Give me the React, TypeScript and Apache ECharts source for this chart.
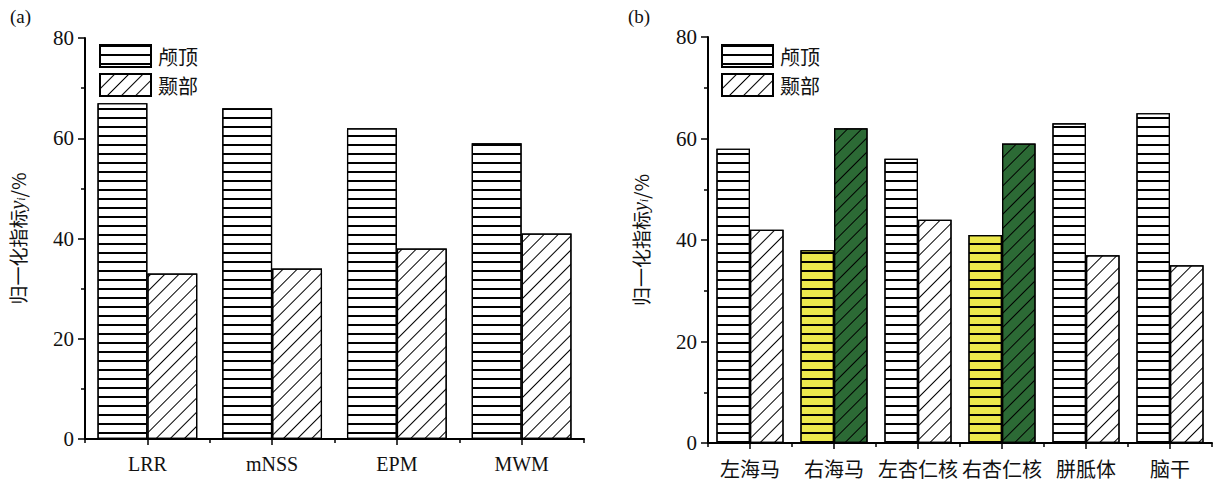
import React, { useEffect, useRef } from "react";
import * as echarts from "echarts";

const categoriesA = ["LRR", "mNSS", "EPM", "MWM"];
const crownA = [67, 66, 62, 59];
const temporalA = [33, 34, 38, 41];

const categoriesB = ["左海马", "右海马", "左杏仁核", "右杏仁核", "胼胝体", "脑干"];
const crownB = [58, 38, 56, 41, 63, 65];
const temporalB = [42, 62, 44, 59, 37, 35];
const highlightedB = ["右海马", "右杏仁核"];

const seriesNames = ["颅顶", "颞部"];
const yMin = 0;
const yMax = 80;
const yInterval = 20;

const SERIF = "'Liberation Serif', 'Noto Sans CJK SC', serif";
const CJK = "'Noto Sans CJK SC', 'Liberation Serif', serif";

const hLines = {
  symbol: "rect",
  symbolSize: 1,
  dashArrayX: [1, 0],
  dashArrayY: [1.6, 6.4],
  rotation: 0,
  color: "#000",
};
const dLines = {
  symbol: "rect",
  symbolSize: 1,
  dashArrayX: [1, 0],
  dashArrayY: [1, 9],
  rotation: -Math.PI / 4,
  color: "#000",
};

export default function App() {
  const ref = useRef<HTMLDivElement>(null);
  useEffect(() => {
    if (!ref.current) return;
    const chart = echarts.init(ref.current, null, { renderer: "svg" });

    const yAxisBase = (gridIndex: number) => ({
      type: "value",
      gridIndex,
      min: yMin,
      max: yMax,
      interval: yInterval,
      name: "{a|归一化指标}{y|y}{i|i}{a|/%}",
      nameLocation: "middle",
      nameGap: 58,
      nameTextStyle: {
        rich: {
          a: { fontFamily: CJK, fontSize: 19, color: "#111" },
          y: { fontFamily: SERIF, fontStyle: "italic", fontSize: 20, color: "#111" },
          i: { fontFamily: SERIF, fontStyle: "italic", fontSize: 12, color: "#111", verticalAlign: "bottom", padding: [8, 0, 0, 0] },
        },
      },
      axisLine: { show: true, lineStyle: { color: "#000", width: 2 } },
      axisTick: { show: true, inside: false, length: 7, lineStyle: { color: "#000", width: 1.5 } },
      minorTick: { show: true, splitNumber: 2, length: 4, lineStyle: { color: "#000", width: 1.5 } },
      splitLine: { show: false },
      axisLabel: { fontFamily: SERIF, fontSize: 21, color: "#111", margin: 11 },
    });

    const xAxisMain = (gridIndex: number, data: string[], font: string, size: number) => ({
      type: "category",
      gridIndex,
      position: "bottom",
      data,
      axisLine: { show: true, onZero: false, lineStyle: { color: "#000", width: 2 } },
      axisTick: { show: true, alignWithLabel: true, length: 6, lineStyle: { color: "#000", width: 1.5 } },
      axisLabel: { fontFamily: font, fontSize: size, color: "#111", margin: 15, interval: 0 },
      splitLine: { show: false },
    });
    const xAxisBoundary = (gridIndex: number, data: string[]) => ({
      type: "category",
      gridIndex,
      position: "bottom",
      data,
      axisLine: { show: false, onZero: false },
      axisTick: { show: true, alignWithLabel: false, length: 4, lineStyle: { color: "#000", width: 1.5 } },
      axisLabel: { show: false },
      splitLine: { show: false },
    });

    const bar = (name: string, xAxisIndex: number, yAxisIndex: number, data: any[], decal: any) => ({
      type: "bar",
      name,
      xAxisIndex,
      yAxisIndex,
      data,
      barGap: "0%",
      barCategoryGap: "20%",
      itemStyle: { color: "#fff", borderColor: "#000", borderWidth: 1.2, decal },
      emphasis: { disabled: true },
    });

    const crownBData = crownB.map((v, i) =>
      highlightedB.includes(categoriesB[i])
        ? { value: v, itemStyle: { color: "#ece84c" } }
        : v
    );
    const temporalBData = temporalB.map((v, i) =>
      highlightedB.includes(categoriesB[i])
        ? { value: v, itemStyle: { color: "#2c6a35" } }
        : v
    );

    const legendBase = (left: number) => ({
      left,
      top: 39,
      orient: "vertical",
      icon: "rect",
      itemWidth: 51,
      itemHeight: 22,
      itemGap: 5,
      data: seriesNames,
      selectedMode: false,
      textStyle: { fontFamily: CJK, fontSize: 20, color: "#111", padding: [0, 0, 0, 2] },
    });

    chart.setOption({
      animation: false,
      backgroundColor: "#fff",
      graphic: [
        { type: "text", left: 10, top: 7, style: { text: "(a)", fontFamily: SERIF, fontSize: 19, fill: "#111" } },
        { type: "text", left: 628, top: 7, style: { text: "(b)", fontFamily: SERIF, fontSize: 19, fill: "#111" } },
      ],
      legend: [legendBase(94), legendBase(716)],
      grid: [
        { left: 85, top: 38, width: 499, height: 401 },
        { left: 708, top: 37, width: 504, height: 406 },
      ],
      xAxis: [
        xAxisMain(0, categoriesA, SERIF, 20),
        xAxisBoundary(0, categoriesA),
        xAxisMain(1, categoriesB, CJK, 20),
        xAxisBoundary(1, categoriesB),
      ],
      yAxis: [yAxisBase(0), yAxisBase(1)],
      series: [
        bar(seriesNames[0], 0, 0, crownA, hLines),
        bar(seriesNames[1], 0, 0, temporalA, dLines),
        bar(seriesNames[0], 2, 1, crownBData, hLines),
        bar(seriesNames[1], 2, 1, temporalBData, dLines),
      ],
    });
    return () => chart.dispose();
  }, []);

  return (
    <div
      ref={ref}
      style={{ position: "absolute", left: 0, top: 0, width: 1213, height: 483 }}
    />
  );
}
